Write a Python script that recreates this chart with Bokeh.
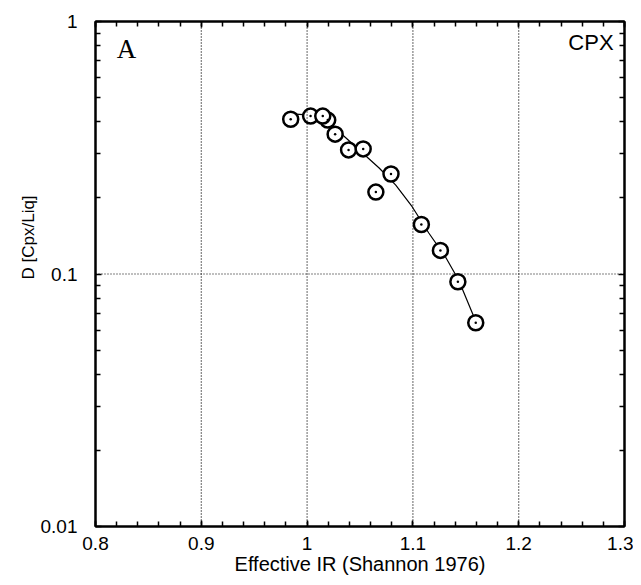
from bokeh.plotting import figure
from bokeh.models import (FixedTicker, CustomJSTickFormatter, LinearAxis, LogAxis,
                          Label, Span, Title)
from bokeh.embed import file_html
from bokeh.resources import INLINE

# measured points (effective ionic radius, partition coefficient)
ir_pts = [0.9845, 1.0033, 1.0195, 1.0148, 1.0265, 1.0392, 1.0530, 1.0793,
          1.0650, 1.1080, 1.1260, 1.1425, 1.1594]
d_pts = [0.410, 0.422, 0.407, 0.422, 0.358, 0.310, 0.313, 0.249,
         0.211, 0.157, 0.124, 0.0932, 0.0641]

# fitted curve
ir_fit = [0.9892, 1.0000, 1.0211, 1.0368, 1.0524, 1.0681, 1.0838, 1.0993,
          1.1150, 1.1307, 1.1432, 1.1589]
d_fit = [0.430, 0.427, 0.396, 0.3457, 0.3014, 0.263, 0.225, 0.1847,
         0.1453, 0.117, 0.0947, 0.0658]

x_ticks = [0.8, 0.9, 1.0, 1.1, 1.2, 1.3]
x_minor = [round(0.8 + 0.02 * i, 2) for i in range(26)]
y_ticks = [0.01, 0.1, 1.0]
y_minor = [0.02, 0.03, 0.04, 0.05, 0.06, 0.07, 0.08, 0.09,
           0.2, 0.3, 0.4, 0.5, 0.6, 0.7, 0.8, 0.9]
x_grid = [0.9, 1.0, 1.1, 1.2]
y_grid = [0.1]

FONT = "Liberation Sans"

p = figure(width=633, height=577, x_range=(0.8, 1.3), y_range=(0.01, 1),
           y_axis_type="log", output_backend="svg", toolbar_location=None,
           min_border_left=95, min_border_right=9, min_border_top=21,
           min_border_bottom=51, x_axis_label="Effective IR (Shannon 1976)")
p.grid.visible = False
p.outline_line_color = "black"
p.outline_line_width = 2

fmt = CustomJSTickFormatter(code="return tick.toString();")
blank = CustomJSTickFormatter(code="return '';")

def style(ax, ticks, minor, labels=True):
    ax.ticker = FixedTicker(ticks=ticks, minor_ticks=minor)
    ax.formatter = fmt if labels else blank
    ax.axis_line_color = "black"
    ax.axis_line_width = 2
    ax.major_tick_in = 6
    ax.major_tick_out = 0
    ax.minor_tick_in = 5
    ax.minor_tick_out = 0
    ax.major_tick_line_width = 1.5
    ax.minor_tick_line_width = 1.5
    ax.major_label_text_font = FONT
    ax.major_label_text_font_size = "19px"
    ax.major_label_text_color = "black"
    ax.axis_label_text_font = FONT
    ax.axis_label_text_font_style = "normal"
    ax.axis_label_text_color = "black"

xa = p.xaxis[0]
ya = p.yaxis[0]
style(xa, x_ticks, x_minor)
style(ya, y_ticks, y_minor)
xa.axis_label_text_font_size = "20px"
xa.major_label_standoff = 10
xa.axis_label_standoff = 0
ya.major_label_standoff = 18

top = LinearAxis()
style(top, x_ticks, x_minor, labels=False)
top.major_label_text_font_size = "0px"
top.major_label_standoff = 0
p.add_layout(top, "above")
right = LogAxis()
style(right, y_ticks, y_minor, labels=False)
right.major_label_text_font_size = "0px"
right.major_label_standoff = 0
p.add_layout(right, "right")

# y axis title: sits beside the axis, starting just above the 0.1 level
ytitle = Title(text="D [Cpx/Liq]", align="left", offset=247,
               text_font=FONT, text_font_size="17px",
               text_font_style="normal", text_color="black", standoff=0)
p.add_layout(ytitle, "left")

for gx in x_grid:
    p.add_layout(Span(location=gx, dimension="height", line_color="black",
                      line_width=1.2, line_dash="1 2"))
for gy in y_grid:
    p.add_layout(Span(location=gy, dimension="width", line_color="black",
                      line_width=1.2, line_dash="1 2"))

p.line(ir_fit, d_fit, line_color="black", line_width=1.2)
p.scatter(ir_pts, d_pts, marker="circle", size=15, fill_color="white",
          line_color="black", line_width=2.5)
p.scatter(ir_pts, d_pts, marker="circle", size=2.5, fill_color="black",
          line_color=None)

p.add_layout(Label(x=0.8202, y=0.779, text="A", text_font="Liberation Serif",
                   text_font_size="27px", text_color="black",
                   text_baseline="alphabetic"))
p.add_layout(Label(x=1.2897, y=0.829, text="CPX", text_font=FONT,
                   text_font_size="22px", text_color="black",
                   text_align="right", text_baseline="alphabetic"))

open("out.html", "w").write(file_html(p, INLINE))
